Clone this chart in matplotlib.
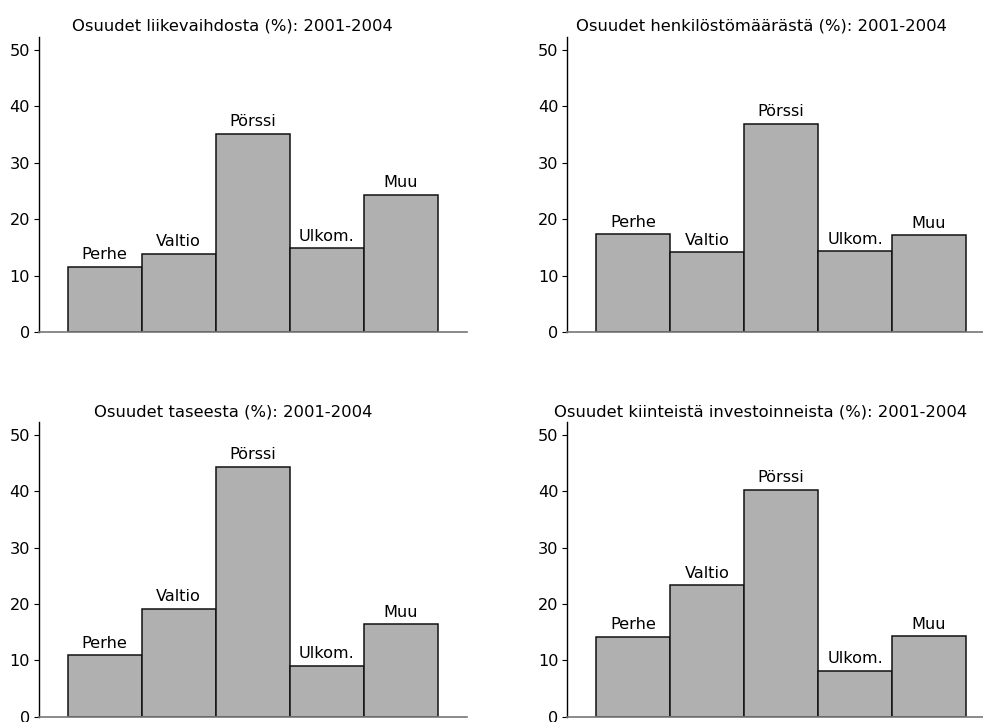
import numpy as np
import matplotlib.pyplot as plt

categories = ["Perhe", "Valtio", "Pörssi", "Ulkom.", "Muu"]

titles = [
    "Osuudet liikevaihdosta (%): 2001-2004",
    "Osuudet henkilöstömäärästä (%): 2001-2004",
    "Osuudet taseesta (%): 2001-2004",
    "Osuudet kiinteistä investoinneista (%): 2001-2004",
]

liikevaihto = [11.6, 13.8, 35.1, 14.8, 24.3]
henkilosto = [17.3, 14.1, 36.9, 14.3, 17.1]
tase = [10.9, 19.2, 44.4, 9.0, 16.4]
investoinnit = [14.2, 23.3, 40.3, 8.1, 14.3]

yticks = [0, 10, 20, 30, 40, 50]

W, H = 983, 722
fig = plt.figure(figsize=(W / 100, H / 100), dpi=100)

# axes boxes in pixels: left, right, bottom(y of zero), top
boxes = [
    (39, 467, 332, 36.7),
    (567.3, 995.3, 332, 36.7),
    (39, 467, 716.7, 422.1),
    (567.3, 995.3, 716.7, 422.1),
]
data = [liikevaihto, henkilosto, tase, investoinnit]

x = np.arange(len(categories))
for (l, r, b, t), vals, title in zip(boxes, data, titles):
    ax = fig.add_axes([l / W, 1 - b / H, (r - l) / W, (b - t) / H])
    ax.bar(x, vals, width=1.0, color="#b0b0b0", edgecolor="#111111",
           linewidth=1.1, zorder=2)
    for xi, v, lab in zip(x, vals, categories):
        ax.annotate(lab, (xi, v), xytext=(0, 5.5), textcoords="offset points",
                    ha="center", va="baseline", fontsize=11.6)
    ax.set_xlim(-0.888, 4.896)
    ax.set_ylim(0, 52.3)
    ax.set_yticks(yticks)
    ax.set_xticks([])
    for s in ["top", "right"]:
        ax.spines[s].set_visible(False)
    ax.spines["left"].set_color("black")
    ax.spines["left"].set_linewidth(1.0)
    ax.spines["bottom"].set_color("#777777")
    ax.spines["bottom"].set_linewidth(1.2)
    ax.tick_params(axis="y", length=3.5, width=0.8, pad=3, labelsize=11.6)
    ax.text(0.4526, 1.02, title, transform=ax.transAxes, ha="center",
            va="baseline", fontsize=11.8)

fig.savefig("out.png", dpi=100)
